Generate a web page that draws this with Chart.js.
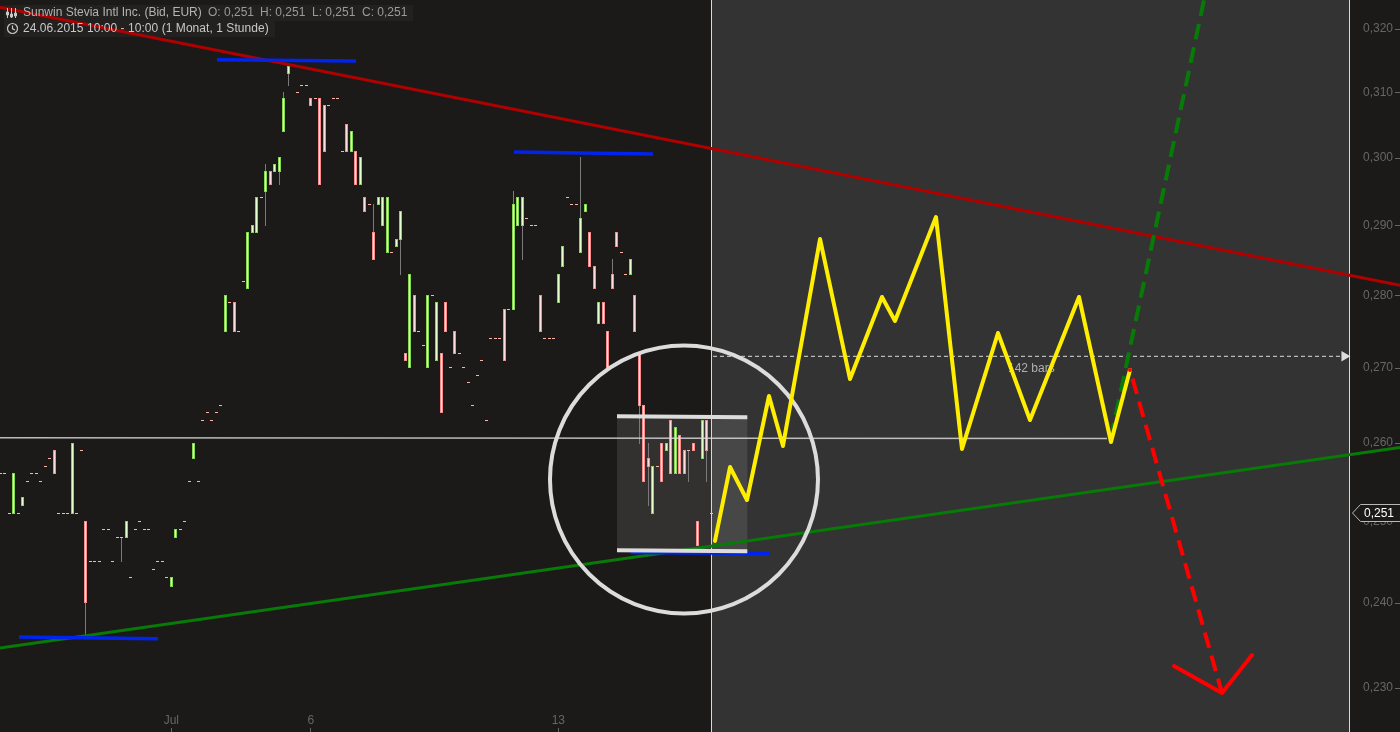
<!DOCTYPE html>
<html>
<head>
<meta charset="utf-8">
<style>html,body{margin:0;padding:0;background:#1b1a19;overflow:hidden}canvas{display:block}</style>
<script src="https://cdn.jsdelivr.net/npm/chart.js@4/dist/chart.umd.js"></script>
</head>
<body>
<canvas id="c" width="1400" height="732" style="width:1400px;height:732px"></canvas>
<script>
// Bars, index 0..158 (1 hour bars), price in EUR. Equal open/close draws a dash.
const barOpen = [.256,.256,.251,.251,.251,.252,.255,.256,.256,.255,.257,.258,.259,.251,.251,.251,.251,.251,.259,.250,
.245,.245,.245,.249,.249,.245,.248,.248,.248,.243,.249,.250,.249,.249,.244,.245,.245,.243,.242,.248,
.249,.250,.255,.258,.255,.263,.264,.263,.264,.265,.275,.279,.279,.275,.282,.281,.289,.289,.294,.295,
.298,.298,.298,.304,.313,null,.310,.311,.311,.309,.309,.309,.308,.308,.309,.309,.301,.305,.301,.301,
.296,.294,.293,.289,.293,.290,.286,.286,.287,.288,.272,.270,.280,.275,.273,.270,.280,.271,.272,.279,
.270,.275,.272,.270,.268,.265,.269,.271,.263,.274,.274,.274,.278,.278,.278,.290,.290,.291,.290,.290,
.280,.274,.274,.274,.279,.284,.294,.293,.293,.286,.292,.289,.284,.276,.279,.275,.283,.289,.286,.283,
.283,.280,.272,.265,.258,.251,.257,.260,.259,.263,.256,.261,.259,.259,.260,.250,.258,.263,.251];
const barClose = [.256,.256,.251,.256,.251,.253,.255,.256,.256,.255,.257,.258,.256,.251,.251,.251,.260,.251,.259,.240,
.245,.245,.245,.249,.249,.245,.248,.248,.250,.243,.249,.250,.249,.249,.244,.245,.245,.243,.243,.249,
.249,.250,.255,.260,.255,.263,.264,.263,.264,.265,.280,.279,.275,.275,.282,.289,.290,.294,.294,.298,
.296,.299,.300,.309,.314,null,.310,.311,.311,.308,.309,.296,.301,.308,.309,.309,.301,.301,.304,.296,
.300,.292,.293,.285,.294,.294,.294,.286,.288,.292,.271,.283,.275,.275,.273,.280,.280,.279,.264,.275,
.270,.272,.272,.270,.268,.265,.269,.271,.263,.274,.274,.274,.271,.278,.293,.294,.294,.291,.290,.290,
.275,.274,.274,.274,.283,.287,.294,.293,.293,.291,.293,.284,.281,.279,.276,.270,.281,.287,.286,.283,
.285,.275,.265,.255,.257,.257,.257,.255,.260,.256,.262,.256,.256,.259,.259,.247,.263,.259,.251];
const wickIndex = [19,27,59,62,63,64,83,89,114,116,129,136,142,144,153,157];
const wickHigh = [.250,.248,.299,.300,.310,.314,.293,.292,.295,.294,.300,.285,.272,.260,.259,.263];
const wickLow  = [.236,.245,.290,.296,.304,.311,.285,.283,.278,.285,.286,.281,.260,.252,.255,.255];

// Axes
const priceTicks = [.32,.31,.30,.29,.28,.27,.26,.25,.24,.23];
const dateTickIndex = [38,69,124];
const dateTickLabels = ['Jul','6','13'];
const lastPrice = .251;
const currentBar = 158;

// Drawn lines: bar index / price pairs
const redTrendX = [-.07,311.04],  redTrendY = [.3235,.2814];
const greenTrendX = [-.07,311.04], greenTrendY = [.23459,.25942];
const blue1X = [4.16,35.04],   blue1Y = [.23589,.23569];
const blue2X = [48.16,79.04],  blue2Y = [.31511,.31491];
const blue3X = [114.16,145.04],blue3Y = [.30086,.30055];
const blue4X = [140.09,171.04],blue4Y = [.24612,.24599];
const boxTopX = [137.04,166],  boxTopY = [.26351,.26338];
const boxBotX = [137.04,166],  boxBotY = [.24639,.24627];
const levelX = [-.07,245.93],  levelY = [.26069,.2606];
const dashedX = [158.38,298.38], dashedY = [.27156,.27156];
const arrowHeadX = [298.7], arrowHeadY = [.27156];
const yellowX = [158.82,162.16,165.93,170.82,173.93,182.16,188.82,195.93,198.82,207.93,213.71,221.71,228.82,239.71,246.82,251.04];
const yellowY = [.24754,.25689,.25268,.26621,.25962,.28801,.26848,.27976,.27641,.29121,.25923,.27475,.26302,.27976,.26014,.2697];
const greenUpX = [246.76,267.49], greenUpY = [.26059,.32469];
const redDownX = [251.6,271.49], redDownY = [.26854,.22938];
const redArrowX = [260.82,271.49,278.16], redArrowY = [.23248,.22938,.23377];
const circleX = [151.93], circleY = [.25529];
const labelBarsX = 223.93, labelBarsY = .26984;
const boxX = [137.04,166], boxY = [.26351,.24639];

const xMin = -.0667, xMax = 299.71, yMax = .32469, yMin = .22742;

const pts = (xs, ys) => xs.map((x, i) => ({x, y: ys[i]}));
const ups = [], downs = [], dashes = [];
barOpen.forEach((o, i) => {
  const c = barClose[i];
  if (o === null) return;
  if (c > o) ups.push({x: i, y: [o, c]});
  else if (c < o) downs.push({x: i, y: [c, o]});
  else dashes.push({x: i, y: o});
});
const wicks = wickIndex.map((x, i) => ({x, y: [wickLow[i], wickHigh[i]]}));

function line(data, color, width, order, extra) {
  return Object.assign({type: 'line', data, borderColor: color, borderWidth: width, pointRadius: 0,
    fill: false, tension: 0, clip: false, order, borderCapStyle: 'butt', borderJoinStyle: 'miter'}, extra || {});
}
function bars(data, fill, edge, thick, order) {
  return {type: 'bar', data, backgroundColor: fill, borderColor: edge, borderWidth: thick > 1 ? 1 : 0,
    barThickness: thick, grouped: false, borderSkipped: false, inflateAmount: 0, clip: false, order};
}

const datasets = [
  bars(wicks, '#7a7a7a', '#7a7a7a', 1, 30),
  bars(ups, '#e2ffcc', '#84d850', 3, 29),
  bars(downs, '#ffdcdc', '#f88c8c', 3, 28),
  {type: 'line', data: dashes, showLine: false, pointStyle: 'line', pointRadius: 1.5, pointBorderColor: '#ffb4a4',
    pointBorderWidth: 1, borderColor: '#ffb4a4', borderWidth: 1, clip: false, order: 27},
  line(pts(levelX, levelY), 'rgba(215,215,215,.85)', 1.5, 26),
  line(pts(redTrendX, redTrendY), '#b00000', 3, 20),
  line(pts(greenTrendX, greenTrendY), '#087a08', 3, 19),
  line(pts(blue1X, blue1Y), '#0024ee', 3.5, 18),
  line(pts(blue2X, blue2Y), '#0024ee', 3.5, 17),
  line(pts(blue3X, blue3Y), '#0024ee', 3.5, 16),
  line(pts(blue4X, blue4Y), '#0024ee', 3.5, 15),
  line(pts(boxTopX, boxTopY), '#dcdcdc', 4, 14),
  line(pts(boxBotX, boxBotY), '#dcdcdc', 4, 13),
  {type: 'line', data: pts(circleX, circleY), showLine: false, pointStyle: 'circle', pointRadius: 134,
    pointBackgroundColor: 'rgba(0,0,0,0)', pointBorderColor: '#dcdcdc', pointBorderWidth: 4, clip: false, order: 12},
  line(pts(dashedX, dashedY), '#dddddd', 1, 11, {borderDash: [4, 3]}),
  {type: 'line', data: pts(arrowHeadX, arrowHeadY), showLine: false, pointStyle: 'triangle', pointRotation: 90,
    pointRadius: 6, pointBackgroundColor: '#dddddd', pointBorderColor: '#dddddd', pointBorderWidth: 0, clip: false, order: 10},
  line(pts(greenUpX, greenUpY), '#087a08', 4, 9, {borderDash: [16, 8]}),
  line(pts(redDownX, redDownY), '#ff0000', 4, 8, {borderDash: [16, 8]}),
  line(pts(redArrowX, redArrowY), '#ff0000', 4, 7, {borderJoinStyle: 'round', borderCapStyle: 'round'}),
  line(pts(yellowX, yellowY), '#ffee00', 4, 5, {borderJoinStyle: 'round', borderCapStyle: 'round'}),
  {type: 'line', data: [{x: yellowX[15], y: yellowY[15]}], showLine: false, pointRadius: 2,
    pointBackgroundColor: '#ff0000', pointBorderWidth: 0, clip: false, order: 4}
];

const FONT = '"Liberation Sans", Arial, sans-serif';
const snap = {
  id: 'snap',
  beforeDatasetsDraw(chart) {
    chart.data.datasets.forEach((ds, i) => {
      const meta = chart.getDatasetMeta(i);
      if (meta.type === 'bar') {
        meta.data.forEach(el => {
          el.x = Math.floor(el.x) + .5;
          el.y = Math.floor(el.y);
          el.base = Math.floor(el.base) + 1;
          el.height = el.base - el.y;
        });
      } else if (ds.pointStyle === 'line') {
        meta.data.forEach(el => { el.x = Math.floor(el.x) + .5; el.y = Math.floor(el.y) + .5; });
      }
    });
  }
};
const backdrop = {
  id: 'backdrop',
  beforeDraw(chart) {
    const {ctx, width, height, scales: {x, y}} = chart;
    const cur = Math.round(x.getPixelForValue(currentBar));
    const right = Math.round(x.right);
    ctx.save();
    ctx.fillStyle = '#1b1a19';
    ctx.fillRect(0, 0, width, height);
    ctx.fillStyle = '#333333';
    ctx.fillRect(cur, 0, right - cur, height);
    // highlighted box inside the circle
    const bx0 = x.getPixelForValue(boxX[0]), bx1 = x.getPixelForValue(boxX[1]);
    const by0 = y.getPixelForValue(boxY[0]), by1 = y.getPixelForValue(boxY[1]);
    ctx.fillStyle = 'rgba(255,255,255,.1)';
    ctx.fillRect(bx0, by0, bx1 - bx0, by1 - by0);
    // header strips
    ctx.fillStyle = '#222120';
    ctx.fillRect(4, 5, 409, 16);
    ctx.fillRect(4, 21, 271, 16);
    // verticals
    ctx.fillStyle = '#d8d8d8';
    ctx.fillRect(cur, 0, 1, height);
    ctx.fillRect(right, 0, 1, height);
    // projected-bars note
    ctx.fillStyle = '#b0b0b0';
    ctx.font = '12px ' + FONT;
    ctx.textBaseline = 'middle';
    ctx.textAlign = 'left';
    ctx.fillText('142 bars', x.getPixelForValue(labelBarsX), y.getPixelForValue(labelBarsY));
    ctx.restore();
  },
  afterDraw(chart) {
    const {ctx, height, scales: {x, y}} = chart;
    ctx.save();
    // tick marks
    ctx.strokeStyle = '#666';
    ctx.lineWidth = 1;
    ctx.beginPath();
    y.ticks.forEach(t => {
      const p = Math.round(y.getPixelForValue(t.value)) + .5;
      ctx.moveTo(1395, p); ctx.lineTo(1400, p);
    });
    x.ticks.forEach(t => {
      const p = Math.floor(x.getPixelForValue(t.value)) + .5;
      ctx.moveTo(p, 728); ctx.lineTo(p, height);
    });
    ctx.stroke();
    // last price tag
    const py = Math.round(y.getPixelForValue(lastPrice));
    ctx.fillStyle = '#1b1a19';
    ctx.strokeStyle = '#b8b8b8';
    ctx.beginPath();
    ctx.moveTo(1400, py - 8.5); ctx.lineTo(1360.5, py - 8.5); ctx.lineTo(1352.5, py);
    ctx.lineTo(1360.5, py + 8.5); ctx.lineTo(1400, py + 8.5);
    ctx.fill(); ctx.stroke();
    ctx.fillStyle = '#ffffff';
    ctx.font = '12px ' + FONT;
    ctx.textAlign = 'left';
    ctx.textBaseline = 'middle';
    ctx.fillText(String(lastPrice).replace('.', ','), 1364, py + .5);
    // header text
    ctx.fillStyle = '#b4b4b4';
    ctx.fillText('Sunwin Stevia Intl Inc. (Bid, EUR)', 23, 13);
    ctx.fillStyle = '#9a9a9a';
    ctx.fillText('O: 0,251', 208, 13);
    ctx.fillText('H: 0,251', 260, 13);
    ctx.fillText('L: 0,251', 312, 13);
    ctx.fillText('C: 0,251', 362, 13);
    ctx.fillStyle = '#c8c8c8';
    ctx.letterSpacing = '0.05px';
    ctx.fillText('24.06.2015 10:00 - 10:00 (1 Monat, 1 Stunde)', 23, 29);
    ctx.letterSpacing = '0px';
    // header icons
    ctx.strokeStyle = '#c8c8c8';
    ctx.lineWidth = 1;
    ctx.beginPath();
    [7.5, 11.5, 15.5].forEach((px, i) => {
      ctx.moveTo(px, 8); ctx.lineTo(px, 18);
      const k = [13, 15, 14][i];
      ctx.rect(px - 1, k - 1, 2, 3);
    });
    ctx.stroke();
    ctx.lineWidth = 1.2;
    ctx.beginPath();
    ctx.arc(12.5, 28.5, 5, 0, Math.PI * 2);
    ctx.moveTo(12.5, 25.5); ctx.lineTo(12.5, 28.8); ctx.lineTo(15, 30);
    ctx.stroke();
    ctx.restore();
  }
};

new Chart(document.getElementById('c'), {
  type: 'bar',
  data: {datasets},
  plugins: [backdrop, snap],
  options: {
    responsive: false, maintainAspectRatio: false, animation: false, devicePixelRatio: 1, events: [],
    layout: {padding: 0, autoPadding: false},
    plugins: {legend: {display: false}, tooltip: {enabled: false}, title: {display: false}},
    scales: {
      x: {
        type: 'linear', position: 'bottom', min: xMin, max: xMax, offset: false, bounds: 'data',
        grid: {display: false, drawTicks: false}, border: {display: false},
        afterBuildTicks: s => { s.ticks = dateTickIndex.map(value => ({value})); },
        afterFit: s => { s.height = 22; s.paddingLeft = 0; s.paddingRight = 0; },
        ticks: {
          autoSkip: false, maxRotation: 0, padding: 3, color: '#666', font: {family: FONT, size: 12},
          callback: v => dateTickLabels[dateTickIndex.indexOf(v)]
        }
      },
      y: {
        type: 'logarithmic', position: 'right', min: yMin, max: yMax, bounds: 'data',
        grid: {display: false, drawTicks: false}, border: {display: false},
        afterBuildTicks: s => { s.ticks = priceTicks.map(value => ({value})); },
        afterFit: s => { s.width = 51; s.paddingTop = 0; s.paddingBottom = 0; },
        ticks: {
          autoSkip: false, padding: 14, color: '#666', font: {family: FONT, size: 12},
          callback: v => v.toFixed(3).replace('.', ',')
        }
      }
    }
  }
});
</script>
</body>
</html>
